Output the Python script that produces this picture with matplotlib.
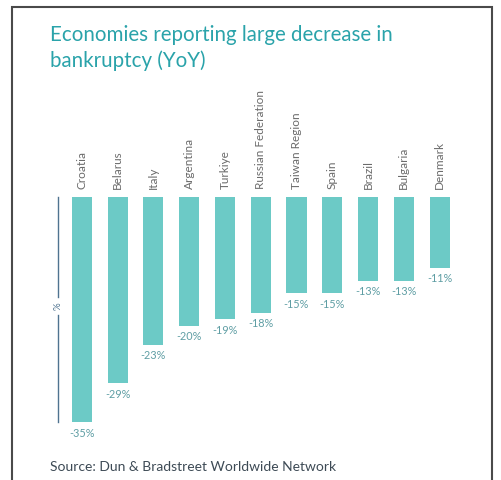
import matplotlib.pyplot as plt
import matplotlib.patches as patches

# data
countries = ['Croatia', 'Belarus', 'Italy', 'Argentina', 'Turkiye', 'Russian Federation',
             'Taiwan Region', 'Spain', 'Brazil', 'Bulgaria', 'Denmark']
change_pct = [-35, -29, -23, -20, -19, -18, -15, -15, -13, -13, -11]

title_txt = 'Economies reporting large decrease in\nbankruptcy (YoY)'
source_txt = 'Source: Dun & Bradstreet Worldwide Network'

bar_color = '#6ccac6'
title_color = '#2aa3aa'
label_color = '#6b6b6b'
value_color = '#5f9ea4'
axis_color = '#4f7390'

plt.rcParams['font.family'] = ['Lato', 'DejaVu Sans']

W, H = 502, 480
fig = plt.figure(figsize=(W / 100, H / 100), dpi=100)

# axes placed in pixel terms: zero line at y=197, -35 at y=422
left_px, right_px = 58, 457.4
top_px, bot_px = 197, 422
ax = fig.add_axes([left_px / W, 1 - bot_px / H, (right_px - left_px) / W, (bot_px - top_px) / H])
ax.set_xlim(-0.67, 10.5)
ax.set_ylim(-35, 0)

x = range(len(countries))
ax.bar(x, change_pct, width=0.56, color=bar_color, align='center')

for i, (name, v) in enumerate(zip(countries, change_pct)):
    ax.annotate(name, (i, 0), xytext=(0, 6), textcoords='offset points',
                rotation=90, ha='center', va='bottom', fontsize=8.5,
                color=label_color, annotation_clip=False)
    ax.annotate(f'{v}%', (i, v), xytext=(0, -4), textcoords='offset points',
                ha='center', va='top', fontsize=7.8, color=value_color,
                annotation_clip=False)

# left axis line, broken around the % label
ax.plot([0, 0], [1, 0.556], transform=ax.transAxes, color=axis_color, lw=1, clip_on=False)
ax.plot([0, 0], [0.476, 0], transform=ax.transAxes, color=axis_color, lw=1, clip_on=False)
ax.text(0, 0.516, '%', transform=ax.transAxes, rotation=90, ha='center', va='center',
        fontsize=7, color=axis_color)

ax.axis('off')

fig.text(50 / W, 1 - 25 / H, title_txt, ha='left', va='top', fontsize=14.8,
         color=title_color, linespacing=1.3)
fig.text(50 / W, 1 - 467 / H, source_txt, ha='left', va='center', fontsize=10,
         color='#3d4a55')

# page frame
fig.patches.append(patches.Rectangle((12 / W, -0.05), (492 - 12) / W, 1.05 - 7 / H,
                                     transform=fig.transFigure, fill=False,
                                     edgecolor='#4a4a4a', lw=1.5))

fig.savefig('out.png', dpi=100)
